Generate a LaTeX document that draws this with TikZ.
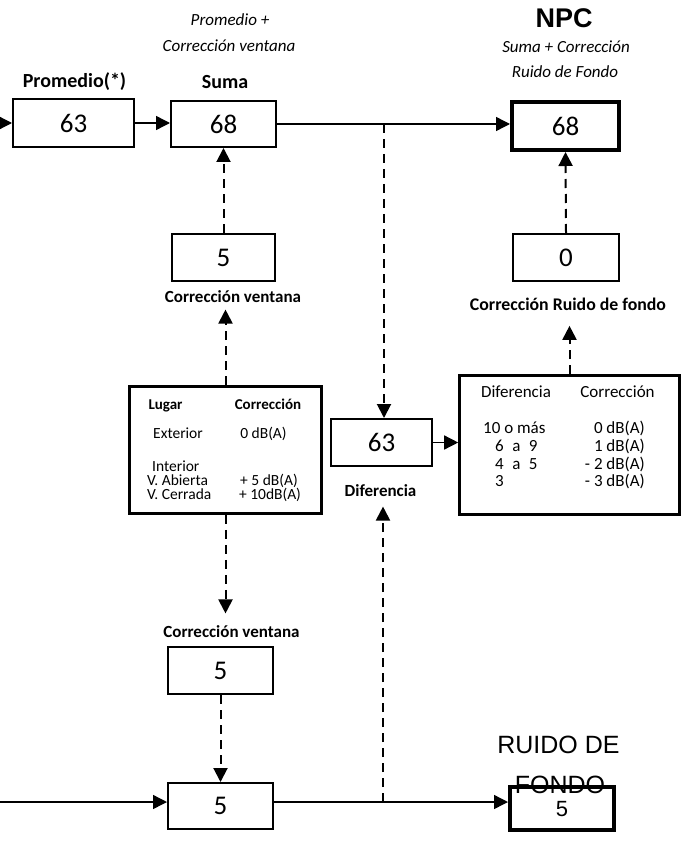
\documentclass[tikz,border=0pt]{standalone}
\usepackage{fontspec}
\setmainfont{Carlito}
\newfontfamily\arialfont{Liberation Sans}
\usetikzlibrary{arrows.meta}

\newcommand{\fsz}[1]{\fontsize{#1}{#1}\selectfont}

\begin{document}
\begin{tikzpicture}[x=1pt,y=-1pt]
  \tikzstyle{Caja}=[draw,line width=2pt,minimum width=105pt,minimum height=47pt,inner sep=0pt,font=\fsz{27}]
  \tikzstyle{CajaGruesa}=[Caja,line width=4pt]
  \tikzstyle{Tabla}=[draw,line width=2.6pt,inner sep=0pt]
  \tikzstyle{Titulo}=[font=\bfseries\fsz{20}]
  \tikzstyle{Nota}=[font=\itshape\fsz{17}]
  \tikzstyle{Etiqueta}=[font=\bfseries\fsz{17}]
  \tikzstyle{Fila}=[inner sep=0pt,text height=11pt,text depth=3pt,font=\fsz{15.5}]
  \tikzstyle{FilaG}=[inner sep=0pt,text height=12pt,text depth=4pt,font=\fsz{17}]
  \tikzstyle{Linea}=[line width=1.4pt,-{Triangle[length=14pt,width=14pt]}]
  \tikzstyle{Trazos}=[Linea,line width=2pt,dash pattern=on 9pt off 6pt]

  \useasboundingbox (0,0) rectangle (682,842);

  % cajas de arriba
  \node[Caja,minimum width=121pt,minimum height=48pt] (prom) at (73.5,123) {63};
  \node[Caja,minimum height=46pt] (suma) at (223.5,124) {68};
  \node[CajaGruesa,minimum width=107pt,minimum height=48pt] (npc) at (565.5,126) {68};
  \node[Caja,minimum width=103pt] (corrV) at (223.5,257.5) {5};
  \node[Caja,minimum width=106pt] (corrR) at (566,257.5) {0};

  \node[Titulo] (tprom) at (74.5,82) {Promedio(*)};
  \node[Titulo] (tsuma) at (225,82) {Suma};
  \node[Nota] (nsuma1) at (230,20) {Promedio +};
  \node[Nota] (nsuma2) at (229,46) {Corrección ventana};
  \node[font=\arialfont\bfseries\fsz{27}] (tnpc) at (564,18) {NPC};
  \node[Nota] (nnpc1) at (566,47) {Suma + Corrección};
  \node[Nota] (nnpc2) at (565,72) {Ruido de Fondo};
  \node[Etiqueta] (ecorrV) at (233,297) {Corrección ventana};
  \node[Etiqueta,font=\bfseries\fsz{17.8}] (ecorrR) at (568,304) {Corrección Ruido de fondo};

  % tabla lugar
  \node[Tabla,minimum width=192pt,minimum height=127pt] (lugar) at (225.5,450) {};
  \node[Fila,font=\bfseries\fsz{15}] (lhd1) at (165.5,405) {Lugar};
  \node[Fila,font=\bfseries\fsz{15}] (lhd2) at (268,405) {Corrección};
  \node[Fila,anchor=west] (lext) at (153,434) {Exterior};
  \node[Fila] (l0) at (263.5,434) {0 dB(A)};
  \node[Fila,anchor=west] (lint) at (152,467) {Interior};
  \node[Fila,anchor=west] (lab) at (147,481) {V. Abierta};
  \node[Fila] (l5) at (269,481) {+ 5 dB(A)};
  \node[Fila,anchor=west] (lce) at (147,495) {V. Cerrada};
  \node[Fila] (l10) at (270,495) {+ 10dB(A)};

  % diferencia
  \node[Caja,minimum width=101pt] (dif) at (381.5,442.5) {63};
  \node[Etiqueta] (edif) at (380.5,491) {Diferencia};

  % tabla ruido de fondo
  \node[Tabla,minimum width=220pt,minimum height=139pt] (tdif) at (569.5,445) {};
  \node[FilaG] (dhd1) at (516,393) {Diferencia};
  \node[FilaG] (dhd2) at (617.5,393) {Corrección};
  \node[FilaG,anchor=west] (d1) at (483,429) {10 o más};
  \node[FilaG,anchor=west] (d2) at (495,447) {6\enspace a\enspace 9};
  \node[FilaG,anchor=west] (d3) at (495,465) {4\enspace a\enspace 5};
  \node[FilaG,anchor=west] (d4) at (495,482) {3};
  \node[FilaG,anchor=east] (c1) at (645,429) {0 dB(A)};
  \node[FilaG,anchor=east] (c2) at (645,447) {1 dB(A)};
  \node[FilaG,anchor=east] (c3) at (645,465) {- 2 dB(A)};
  \node[FilaG,anchor=east] (c4) at (645,482) {- 3 dB(A)};

  % cajas de abajo
  \node[Etiqueta] (ecorrV2) at (231.5,632) {Corrección ventana};
  \node[Caja] (corrV2) at (220.5,670.5) {5};
  \node[Caja,minimum height=46pt] (low) at (220.5,806) {5};
  \node[font=\arialfont\fsz{25}] (truido) at (558.5,745) {RUIDO DE};
  \node[font=\arialfont\fsz{25},inner sep=0pt] (truido2) at (560,785) {FONDO};
  \node[CajaGruesa,minimum width=104pt,minimum height=43pt,font=\arialfont\fsz{22},text height=15pt,text depth=0pt] (ruido) at (562,808.5) {5};

  % conexiones
  \coordinate (entrada) at (-20,123);
  \coordinate (entradaB) at (-20,802);
  \coordinate (ja) at (384,124);
  \coordinate (jb) at (383,802);

  \draw[Linea] (entrada) -- (prom.west);
  \draw[Linea] (prom.east) -- (suma.west |- prom.east);
  \draw[Linea] (suma.east) -- (npc.west |- suma.east);
  \draw[Trazos] (ja) -- (dif.north -| ja);
  \draw[Trazos] (corrV.north) -- (suma.south);
  \draw[Trazos] (corrR.north) -- (npc.south);
  \draw[Trazos,shorten >=3pt] (lugar.north) -- (ecorrV.south -| lugar.north);
  \draw[Trazos,shorten >=9pt] (lugar.south) -- (ecorrV2.north -| lugar.south);
  \draw[Trazos,shorten >=12pt] (tdif.north) -- (ecorrR.south -| tdif.north);
  \draw[Linea] (dif.east) -- (tdif.west |- dif.east);
  \draw[Trazos] (corrV2.south) -- (low.north);
  \draw[Linea] (entradaB) -- (low.west |- entradaB);
  \draw[Linea] (low.east |- jb) -- (ruido.west |- jb);
  \draw[Trazos,shorten >=6pt] (jb) -- (edif.south -| jb);

\end{tikzpicture}
\end{document}
